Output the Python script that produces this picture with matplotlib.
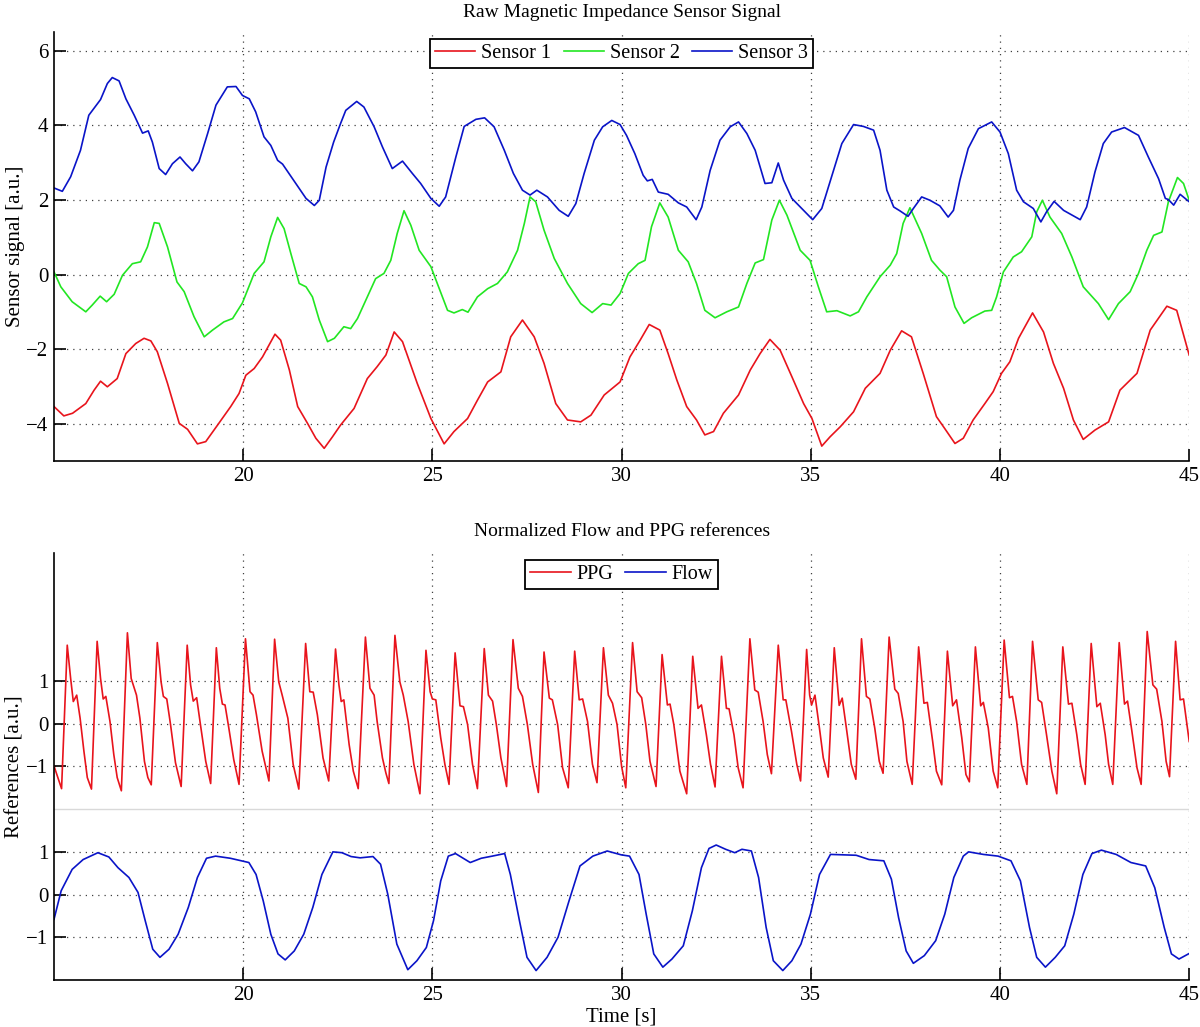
import matplotlib
matplotlib.use('Agg')
import matplotlib.pyplot as plt

plt.rcParams['font.family'] = ['Liberation Serif', 'DejaVu Serif']

# ---- top panel: raw sensor signals (time [s], value [a.u.]) ----
s1_t = [15.0, 15.26, 15.49, 15.84, 16.06, 16.23, 16.41, 16.67, 16.9, 17.16, 17.38, 17.56, 17.73, 18.0,
        18.31, 18.53, 18.79, 19.01, 19.32, 19.67, 19.89, 20.07, 20.29, 20.51, 20.84, 20.99, 21.22,
        21.44, 21.7, 21.92, 22.14, 22.36, 22.57, 22.93, 23.28, 23.54, 23.77, 23.99, 24.21, 24.6,
        24.96, 25.31, 25.57, 25.93, 26.19, 26.46, 26.81, 27.07, 27.38, 27.69, 27.95, 28.26, 28.57,
        28.92, 29.19, 29.54, 29.96, 30.22, 30.49, 30.73, 31.01, 31.23, 31.46, 31.72, 31.98, 32.2,
        32.43, 32.69, 33.09, 33.4, 33.66, 33.92, 34.19, 34.5, 34.81, 35.03, 35.29, 35.51, 35.78,
        36.13, 36.44, 36.83, 37.1, 37.4, 37.66, 37.97, 38.32, 38.54, 38.81, 39.03, 39.29, 39.6,
        39.82, 40.04, 40.26, 40.49, 40.86, 41.15, 41.41, 41.68, 41.94, 42.2, 42.51, 42.87, 43.17,
        43.62, 43.97, 44.41, 44.67, 45.0]
s1_v = [-3.54, -3.79, -3.72, -3.46, -3.10, -2.86, -3.01, -2.79, -2.12, -1.85, -1.71, -1.78, -2.07, -2.92,
        -3.99, -4.15, -4.54, -4.48, -4.04, -3.54, -3.19, -2.70, -2.52, -2.21, -1.60, -1.76, -2.56,
        -3.54, -3.99, -4.39, -4.66, -4.35, -4.04, -3.59, -2.79, -2.47, -2.16, -1.54, -1.80, -2.92,
        -3.86, -4.54, -4.21, -3.86, -3.37, -2.88, -2.61, -1.67, -1.22, -1.67, -2.38, -3.46, -3.90,
        -3.95, -3.77, -3.23, -2.88, -2.21, -1.76, -1.34, -1.49, -2.12, -2.83, -3.54, -3.90, -4.30,
        -4.21, -3.72, -3.23, -2.56, -2.12, -1.74, -2.03, -2.74, -3.46, -3.86, -4.60, -4.35, -4.08,
        -3.68, -3.05, -2.65, -2.03, -1.51, -1.67, -2.65, -3.81, -4.13, -4.53, -4.39, -3.90, -3.46,
        -3.14, -2.65, -2.34, -1.71, -1.03, -1.54, -2.38, -3.05, -3.90, -4.42, -4.17, -3.95, -3.10,
        -2.65, -1.49, -0.85, -0.96, -2.16]

s2_t = [15.0, 15.18, 15.48, 15.84, 16.01, 16.22, 16.39, 16.59, 16.81, 17.07, 17.29, 17.47, 17.65, 17.78,
        18.0, 18.25, 18.44, 18.7, 18.97, 19.19, 19.49, 19.72, 19.98, 20.29, 20.55, 20.73, 20.91,
        21.08, 21.26, 21.48, 21.66, 21.83, 22.01, 22.23, 22.41, 22.66, 22.84, 23.02, 23.24, 23.5,
        23.72, 23.9, 24.07, 24.25, 24.43, 24.65, 24.96, 25.13, 25.4, 25.57, 25.79, 25.94, 26.19,
        26.46, 26.72, 26.98, 27.25, 27.43, 27.58, 27.73, 27.95, 28.22, 28.57, 28.92, 29.22, 29.5,
        29.72, 29.96, 30.18, 30.44, 30.62, 30.79, 31.01, 31.23, 31.5, 31.76, 31.98, 32.2, 32.47,
        32.78, 33.09, 33.31, 33.53, 33.75, 33.97, 34.17, 34.37, 34.72, 34.98, 35.2, 35.42, 35.69,
        36.04, 36.26, 36.48, 36.83, 37.1, 37.27, 37.44, 37.62, 37.93, 38.19, 38.41, 38.59, 38.81,
        39.05, 39.25, 39.6, 39.78, 39.91, 40.09, 40.35, 40.57, 40.84, 40.97, 41.12, 41.32, 41.63,
        41.9, 42.2, 42.6, 42.87, 43.13, 43.44, 43.66, 43.88, 44.06, 44.28, 44.45, 44.69, 44.85, 45.0]
s2_v = [0.07, -0.33, -0.73, -1.0, -0.82, -0.58, -0.73, -0.53, -0.02, 0.29, 0.34, 0.74, 1.39, 1.37,
        0.74, -0.20, -0.46, -1.13, -1.67, -1.49, -1.27, -1.18, -0.76, 0.03, 0.34, 1.01, 1.53,
        1.23, 0.56, -0.24, -0.33, -0.60, -1.22, -1.80, -1.71, -1.40, -1.45, -1.18, -0.69, -0.11,
        0.03, 0.38, 1.10, 1.71, 1.32, 0.65, 0.21, -0.24, -0.96, -1.03, -0.94, -1.01, -0.60,
        -0.38, -0.24, 0.07, 0.65, 1.37, 2.08, 1.95, 1.19, 0.43, -0.24, -0.78, -1.02, -0.78,
        -0.82, -0.51, 0.03, 0.29, 0.38, 1.28, 1.92, 1.54, 0.65, 0.34, -0.24, -0.96, -1.16,
        -1.0, -0.87, -0.24, 0.31, 0.40, 1.46, 1.99, 1.59, 0.65, 0.38, -0.33, -1.0, -0.97,
        -1.11, -1.0, -0.60, -0.06, 0.25, 0.56, 1.37, 1.79, 1.10, 0.38, 0.12, -0.06, -0.87,
        -1.31, -1.16, -0.98, -0.96, -0.60, 0.07, 0.47, 0.61, 1.01, 1.68, 1.99, 1.54, 1.10,
        0.47, -0.33, -0.78, -1.21, -0.78, -0.46, 0.03, 0.65, 1.05, 1.14, 1.95, 2.60, 2.44, 1.99]

s3_t = [15.0, 15.22, 15.44, 15.7, 15.92, 16.23, 16.41, 16.54, 16.72, 16.9, 17.12, 17.34, 17.49, 17.6,
        17.78, 17.95, 18.13, 18.33, 18.48, 18.66, 18.83, 19.06, 19.28, 19.58, 19.81, 19.98, 20.16,
        20.33, 20.55, 20.73, 20.91, 21.04, 21.39, 21.66, 21.88, 22.01, 22.19, 22.39, 22.57, 22.71,
        23.0, 23.19, 23.46, 23.68, 23.94, 24.21, 24.47, 24.69, 24.96, 25.18, 25.35, 25.62, 25.84,
        26.15, 26.38, 26.63, 26.9, 27.14, 27.38, 27.58, 27.76, 28.04, 28.35, 28.59, 28.79, 29.01,
        29.28, 29.5, 29.74, 29.96, 30.13, 30.35, 30.57, 30.68, 30.81, 30.97, 31.23, 31.5, 31.72,
        31.97, 32.12, 32.34, 32.6, 32.87, 33.09, 33.31, 33.53, 33.79, 33.97, 34.14, 34.28, 34.5,
        34.76, 35.05, 35.29, 35.56, 35.82, 36.13, 36.39, 36.66, 36.83, 37.01, 37.19, 37.35, 37.57,
        37.71, 37.93, 38.15, 38.41, 38.63, 38.77, 38.94, 39.16, 39.43, 39.78, 40.0, 40.22, 40.44,
        40.62, 40.88, 41.08, 41.23, 41.43, 41.68, 42.12, 42.29, 42.51, 42.73, 42.95, 43.29, 43.66,
        43.92, 44.19, 44.37, 44.45, 44.59, 44.76, 45.0]
s3_v = [2.32, 2.23, 2.62, 3.33, 4.27, 4.69, 5.12, 5.28, 5.19, 4.71, 4.27, 3.79, 3.85, 3.55,
        2.84, 2.68, 2.97, 3.15, 2.97, 2.78, 3.02, 3.78, 4.54, 5.03, 5.04, 4.80, 4.71,
        4.36, 3.69, 3.46, 3.06, 2.96, 2.44, 2.04, 1.85, 1.99, 2.88, 3.55, 4.04, 4.40,
        4.64, 4.49, 3.96, 3.42, 2.84, 3.04, 2.71, 2.44, 2.04, 1.83, 2.08, 3.15, 3.97,
        4.16, 4.20, 3.96, 3.33, 2.71, 2.26, 2.13, 2.26, 2.08, 1.72, 1.56, 1.90, 2.71,
        3.60, 3.96, 4.13, 4.02, 3.73, 3.24, 2.66, 2.51, 2.55, 2.21, 2.15, 1.92, 1.81,
        1.47, 1.81, 2.79, 3.60, 3.96, 4.09, 3.78, 3.33, 2.44, 2.46, 2.99, 2.53, 2.04,
        1.77, 1.47, 1.77, 2.66, 3.51, 4.02, 3.97, 3.87, 3.33, 2.26, 1.81, 1.71, 1.56,
        1.77, 2.08, 1.99, 1.84, 1.54, 1.72, 2.53, 3.38, 3.91, 4.09, 3.82, 3.24, 2.26,
        1.95, 1.77, 1.41, 1.68, 1.96, 1.72, 1.47, 1.81, 2.75, 3.51, 3.82, 3.94, 3.73,
        3.15, 2.57, 2.04, 2.01, 1.86, 2.15, 1.95]

# ---- bottom panel: normalized references ----
ppg_t = [15.0, 15.2, 15.35, 15.44, 15.51, 15.6, 15.69, 15.79, 15.88,
         15.99, 16.14, 16.23, 16.3, 16.37, 16.48, 16.58, 16.67,
         16.78, 16.94, 17.04, 17.18, 17.27, 17.39, 17.48,
         17.57, 17.73, 17.83, 17.89, 17.98, 18.08, 18.21,
         18.36, 18.52, 18.61, 18.68, 18.77, 18.87, 19.01,
         19.14, 19.29, 19.38, 19.45, 19.52, 19.62, 19.75,
         19.89, 20.06, 20.18, 20.26, 20.35, 20.5,
         20.68, 20.83, 20.94, 21.03, 21.18, 21.32,
         21.47, 21.65, 21.76, 21.85, 21.96, 22.11,
         22.26, 22.44, 22.53, 22.59, 22.66, 22.8, 22.91,
         23.04, 23.23, 23.35, 23.46, 23.54, 23.68, 23.77,
         23.85, 24.01, 24.14, 24.23, 24.36, 24.51,
         24.67, 24.83, 24.94, 25.0, 25.09, 25.22, 25.33,
         25.44, 25.6, 25.73, 25.82, 25.93, 26.06,
         26.19, 26.37, 26.48, 26.59, 26.69, 26.81,
         26.96, 27.13, 27.27, 27.38, 27.51, 27.65,
         27.8, 27.95, 28.09, 28.17, 28.31, 28.44,
         28.59, 28.76, 28.88, 28.97, 29.1, 29.23,
         29.35, 29.52, 29.65, 29.76, 29.88, 30.0,
         30.11, 30.29, 30.41, 30.53, 30.64, 30.75,
         30.91, 31.07, 31.21, 31.28, 31.38, 31.54,
         31.72, 31.88, 32.02, 32.11, 32.24, 32.35,
         32.47, 32.64, 32.77, 32.84, 32.97, 33.08,
         33.21, 33.39, 33.52, 33.61, 33.74, 33.85,
         33.96, 34.14, 34.27, 34.34, 34.49, 34.63,
         34.73, 34.89, 34.97, 35.02, 35.11, 35.24, 35.33,
         35.46, 35.62, 35.75, 35.83, 35.94, 36.07,
         36.19, 36.34, 36.47, 36.56, 36.69, 36.81,
         36.91, 37.07, 37.22, 37.31, 37.44, 37.54,
         37.68, 37.85, 37.99, 38.08, 38.22, 38.32,
         38.46, 38.61, 38.75, 38.85, 38.99, 39.1,
         39.19, 39.35, 39.49, 39.56, 39.69, 39.82,
         39.94, 40.11, 40.25, 40.33, 40.44, 40.57,
         40.71, 40.86, 41.01, 41.1, 41.23, 41.37,
         41.5, 41.66, 41.81, 41.9, 42.03, 42.13,
         42.25, 42.41, 42.56, 42.65, 42.78, 42.87,
         42.98, 43.15, 43.29, 43.37, 43.48, 43.62,
         43.73, 43.89, 44.04, 44.14, 44.28, 44.39,
         44.48, 44.64, 44.76, 44.85, 45.0]
ppg_v = [-0.99, -1.52, 1.84, 1.06, 0.52, 0.67, 0.13, -0.64, -1.26,
         -1.53, 1.93, 1.06, 0.58, 0.64, 0.05, -0.72, -1.26,
         -1.57, 2.13, 1.06, 0.67, 0.13, -0.88, -1.26,
         -1.43, 1.90, 0.98, 0.64, 0.58, -0.02, -0.91,
         -1.47, 1.84, 0.91, 0.53, 0.61, -0.02, -0.88,
         -1.40, 1.78, 0.83, 0.46, 0.44, -0.10, -0.84,
         -1.42, 1.99, 0.75, 0.67, 0.21, -0.64,
         -1.34, 1.98, 0.98, 0.67, 0.13, -0.95,
         -1.53, 1.88, 0.75, 0.74, 0.21, -0.80,
         -1.34, 1.75, 0.91, 0.52, 0.56, -0.49, -1.11,
         -1.52, 2.03, 0.83, 0.67, 0.05, -0.80, -1.15,
         -1.40, 2.07, 0.98, 0.67, 0.05, -0.95,
         -1.64, 1.72, 0.75, 0.58, 0.56, -0.33, -0.95,
         -1.42, 1.66, 0.42, 0.40, -0.02, -0.95,
         -1.52, 1.76, 0.67, 0.53, -0.02, -0.80,
         -1.47, 1.97, 0.83, 0.64, -0.02, -0.95,
         -1.61, 1.68, 0.60, 0.56, -0.02, -1.03,
         -1.50, 1.70, 0.56, 0.58, 0.05, -0.95,
         -1.38, 1.78, 0.67, 0.48, -0.02, -1.0,
         -1.50, 1.90, 0.75, 0.61, -0.02, -0.88,
         -1.47, 1.62, 0.44, 0.46, -0.02, -1.11,
         -1.64, 1.58, 0.36, 0.44, -0.26, -0.95,
         -1.48, 1.58, 0.36, 0.35, -0.26, -1.03,
         -1.50, 1.99, 0.79, 0.74, 0.05, -0.72,
         -1.17, 1.84, 0.56, 0.56, -0.18, -0.95,
         -1.34, 1.74, 0.67, 0.44, 0.67, -0.18, -0.80,
         -1.25, 1.78, 0.43, 0.60, -0.10, -0.95,
         -1.30, 1.99, 0.64, 0.58, -0.10, -0.88,
         -1.16, 2.03, 0.81, 0.71, 0.05, -0.88,
         -1.42, 1.80, 0.48, 0.50, -0.41, -1.11,
         -1.43, 1.70, 0.42, 0.56, -0.33, -1.19,
         -1.36, 1.80, 0.42, 0.50, -0.10, -1.11,
         -1.50, 1.96, 0.61, 0.64, 0.05, -0.95,
         -1.42, 1.93, 0.56, 0.50, -0.26, -1.11,
         -1.64, 1.80, 0.46, 0.48, -0.26, -0.95,
         -1.42, 1.88, 0.40, 0.48, -0.26, -0.95,
         -1.42, 1.90, 0.46, 0.53, -0.14, -1.03,
         -1.42, 2.16, 0.91, 0.81, 0.05, -0.88,
         -1.24, 1.93, 0.56, 0.58, -0.41]

flow_t = [15.0, 15.19, 15.48, 15.77, 16.16, 16.45, 16.69, 16.98, 17.22, 17.41, 17.61, 17.8, 18.04,
          18.28, 18.55, 18.79, 19.03, 19.27, 19.66, 20.15, 20.34, 20.53, 20.73, 20.92, 21.11,
          21.35, 21.6, 21.84, 22.08, 22.37, 22.61, 22.85, 23.09, 23.43, 23.63, 23.82, 24.06,
          24.35, 24.59, 24.84, 25.03, 25.22, 25.42, 25.61, 26.0, 26.29, 26.58, 26.91, 27.06,
          27.3, 27.5, 27.74, 28.03, 28.32, 28.61, 28.9, 29.24, 29.62, 29.99, 30.21, 30.46,
          30.65, 30.85, 31.09, 31.33, 31.63, 31.87, 32.11, 32.31, 32.5, 32.75, 32.99, 33.18,
          33.43, 33.62, 33.82, 34.01, 34.26, 34.5, 34.74, 34.99, 35.23, 35.52, 35.86, 36.2,
          36.54, 36.93, 37.13, 37.32, 37.52, 37.71, 38.0, 38.3, 38.54, 38.78, 39.03, 39.17,
          39.56, 39.95, 40.29, 40.54, 40.78, 40.97, 41.2, 41.46, 41.71, 41.95, 42.19, 42.43,
          42.68, 43.07, 43.46, 43.85, 44.09, 44.34, 44.53, 44.73, 45.0]
flow_v = [-0.58, 0.09, 0.59, 0.82, 0.98, 0.88, 0.63, 0.40, 0.05, -0.61, -1.28, -1.47, -1.28,
          -0.93, -0.30, 0.40, 0.85, 0.90, 0.85, 0.75, 0.47, -0.15, -0.93, -1.39, -1.53,
          -1.32, -0.93, -0.30, 0.47, 1.0, 0.98, 0.89, 0.86, 0.89, 0.71, 0.01, -1.16,
          -1.76, -1.55, -1.24, -0.61, 0.32, 0.90, 0.96, 0.75, 0.85, 0.90, 0.96, 0.47,
          -0.61, -1.47, -1.78, -1.47, -1.0, -0.15, 0.67, 0.90, 1.02, 0.93, 0.90, 0.47,
          -0.46, -1.39, -1.70, -1.51, -1.20, -0.38, 0.63, 1.08, 1.16, 1.06, 0.98, 1.06,
          1.02, 0.40, -0.77, -1.55, -1.78, -1.55, -1.16, -0.46, 0.47, 0.94, 0.93, 0.92,
          0.82, 0.79, 0.36, -0.54, -1.32, -1.61, -1.43, -1.08, -0.46, 0.40, 0.90, 1.0,
          0.94, 0.90, 0.79, 0.32, -0.77, -1.47, -1.70, -1.47, -1.20, -0.46, 0.47, 0.96,
          1.04, 0.94, 0.75, 0.67, 0.16, -0.77, -1.39, -1.51, -1.38]

ppg_offset = 4

red = '#e8141c'
green = '#22e622'
blue = '#0a14c8'
fs = 15

fig = plt.figure(figsize=(12, 10.27), dpi=100)
ax1 = fig.add_axes([0.045, 0.5511, 0.946, 0.4177])
ax2 = fig.add_axes([0.045, 0.0458, 0.946, 0.4158])

ax1.plot(s1_t, s1_v, color=red, lw=1.2, label='Sensor 1')
ax1.plot(s2_t, s2_v, color=green, lw=1.2, label='Sensor 2')
ax1.plot(s3_t, s3_v, color=blue, lw=1.2, label='Sensor 3')
ax1.set_xlim(15, 45)
ax1.set_ylim(-5, 6.5)
ax1.set_yticks([-4, -2, 0, 2, 4, 6])
ax1.set_ylabel('Sensor signal [a.u.]', fontsize=fs, labelpad=1)
ax1.set_title('Raw Magnetic Impedance Sensor Signal', fontsize=14, pad=10.5)

ax2.axhline(2, color='0.85', lw=1.0)
ax2.plot(ppg_t, [v + ppg_offset for v in ppg_v], color=red, lw=1.2, label='PPG')
ax2.plot(flow_t, flow_v, color=blue, lw=1.2, label='Flow')
ax2.set_xlim(15, 45)
ax2.set_ylim(-2, 8)
ax2.set_yticks([-1, 0, 1, 3, 4, 5])
ax2.set_yticklabels(['\u22121', '0', '1', '\u22121', '0', '1'])
ax2.set_ylabel('References [a.u.]', fontsize=fs, labelpad=1)
ax2.set_xlabel('Time [s]', fontsize=fs, labelpad=2)
ax2.set_title('Normalized Flow and PPG references', fontsize=14, pad=12.5)

for ax, nc in [(ax1, 3), (ax2, 2)]:
    ax.set_xticks([20, 25, 30, 35, 40, 45])
    ax.grid(True, color='0.25', linestyle=(0, (1, 4)), linewidth=0.9)
    ax.spines['top'].set_visible(False)
    ax.spines['right'].set_visible(False)
    ax.spines['left'].set_linewidth(1.2)
    ax.spines['bottom'].set_linewidth(1.2)
    ax.tick_params(direction='in', length=8.5, width=1.2, labelsize=fs, pad=4)
    leg = ax.legend(loc='upper center', ncol=nc, fontsize=14.5, fancybox=False, framealpha=1,
                    edgecolor='k', borderpad=0.25, handlelength=2.0, handletextpad=0.3,
                    columnspacing=0.6, borderaxespad=0.35)
    leg.get_frame().set_linewidth(1.3)

plt.savefig('out.png', dpi=100)
